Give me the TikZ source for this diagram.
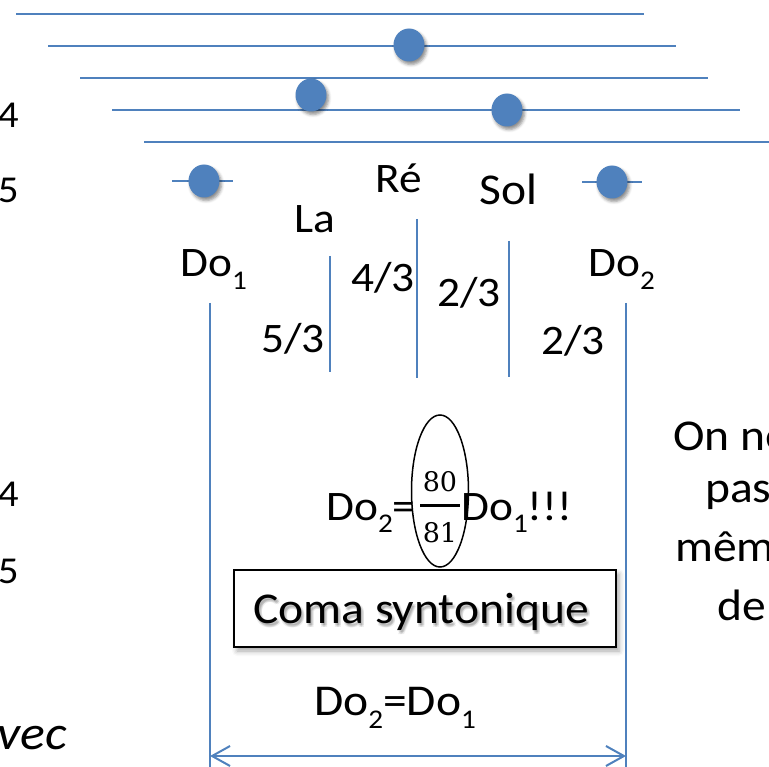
\documentclass[tikz,border=0pt]{standalone}
\usepackage{fontspec}
\setmainfont{Carlito}[FakeStretch=1.08]
\newfontfamily\fracfont{DejaVu Serif}
\usetikzlibrary{arrows.meta,shadows.blur,shapes.geometric}
\definecolor{staff}{HTML}{4F81BD}
\newcommand\lowsub[1]{\raisebox{-0.3em}{\fontsize{27}{27}\selectfont #1}}
\tikzset{
  staffline/.style={draw=staff, line width=2pt},
  notedot/.style={ellipse, minimum width=31pt, minimum height=33pt, inner sep=0pt, fill=staff,
    blur shadow={shadow xshift=2pt, shadow yshift=-3pt, shadow blur radius=3pt, shadow opacity=45}},
  lbl/.style={inner sep=0pt, anchor=base west, font=\fontsize{42}{50}\selectfont},
  lblr/.style={inner sep=0pt, anchor=base east, font=\fontsize{38}{46}\selectfont},
  sidetxt/.style={lbl, font=\fontsize{44}{52}\selectfont},
  fracnum/.style={inner sep=0pt, anchor=base, font=\fracfont\fontsize{27}{32}\selectfont},
  comafont/.style={lbl, font=\fontsize{44}{52}\selectfont},
  dimarrow/.style={staffline, {Straight Barb[length=18pt,width=20pt]}-{Straight Barb[length=18pt,width=20pt]}},
}
\begin{document}
\begin{tikzpicture}[x=1pt,y=-1pt]
\useasboundingbox (0,0) rectangle (769,767);
\clip (0,0) rectangle (769,767);
% staff lines
\foreach \i in {0,...,4}{
  \coordinate (s\i a) at ({16+32*\i},{14+32*\i});
  \coordinate (s\i b) at ({644+32*\i},{14+32*\i});
  \draw[staffline] (s\i a) -- (s\i b);
}
% ledger lines
\coordinate (l1a) at (172,181); \coordinate (l1b) at (233,181);
\coordinate (l2a) at (582,182); \coordinate (l2b) at (642,182);
\draw[staffline] (l1a) -- (l1b);
\draw[staffline] (l2a) -- (l2b);
% notes
\node[notedot] (nre) at (409,45) {};
\node[notedot] (nla) at (311,95) {};
\node[notedot] (nsol) at (507,110) {};
\node[notedot] (ndo1) at (204,181) {};
\node[notedot] (ndo2) at (612,182) {};
% note names
\node[lbl] (do1) at (180,277) {Do\lowsub{1}};
\node[lbl] (la) at (294,233) {La};
\node[lbl] (re) at (375,193) {Ré};
\node[lbl, font=\fontsize{44}{52}\selectfont] (sol) at (479,205) {Sol};
\node[lbl] (do2) at (588,277) {Do\lowsub{2}};
% ratios
\node[lbl] (f1) at (261,353) {5/3};
\node[lbl] (f2) at (351,292) {4/3};
\node[lbl] (f3) at (437,307) {2/3};
\node[lbl] (f4) at (541,355) {2/3};
% vertical lines
\coordinate (v1a) at (210,303); \coordinate (v1b) at (210,767);
\coordinate (v2a) at (330,256); \coordinate (v2b) at (330,372);
\coordinate (v3a) at (417,219); \coordinate (v3b) at (417,378);
\coordinate (v4a) at (509,241); \coordinate (v4b) at (509,377);
\coordinate (v5a) at (626,303); \coordinate (v5b) at (626,767);
\foreach \v in {1,...,5}{ \draw[staffline] (v\v a) -- (v\v b); }
% equation with comma
\node[lbl] (eqa) at (326,520) {Do\lowsub{2}=};
\coordinate (bara) at (420,505); \coordinate (barb) at (460,505);
\draw[line width=3pt] (bara) -- (barb);
\node[fracnum] (num) at (440,491) {80};
\node[fracnum] (den) at (440,542) {81};
\node[lbl] (eqb) at (461,520) {Do\lowsub{1}!!!};
\node[draw, line width=1.5pt, ellipse, minimum width=57pt, minimum height=152pt, inner sep=0pt] (oval) at (440,491) {};
% box
\node[draw, line width=1.5pt, fill=white, minimum width=382pt, minimum height=77pt, inner sep=0pt,
  blur shadow={shadow xshift=3pt, shadow yshift=-4pt, shadow blur radius=5pt, shadow opacity=35}] (coma) at (425,608.5) {};
\foreach \dx/\dy in {1/2,3/2,1/4,3/4,2/3}{
  \node[comafont, text=black, opacity=0.07] at ({253+\dx},{623+\dy}) {Coma syntonique};
}
\node[comafont] (comatxt) at (253,623) {Coma syntonique};
% bottom
\node[lbl, font=\fontsize{44}{52}\selectfont] (eq2) at (314,715) {Do\lowsub{2}=Do\lowsub{1}};
\draw[dimarrow] (210,756) coordinate (ar1) -- (626,756) coordinate (ar2);
% right text
\node[sidetxt] (r1) at (673,450) {On ne};
\node[sidetxt] (r2) at (705,502) {pas};
\node[sidetxt] (r3) at (675,561) {même};
\node[sidetxt] (r4) at (717,620) {de};
% left text
\node[lblr] (l1) at (19,128) {4};
\node[lblr] (l2) at (19,203) {5};
\node[lblr] (l3) at (19,506) {4};
\node[lblr] (l4) at (19,583) {5};
\node[lblr, font=\itshape\fontsize{48}{56}\selectfont] (l5) at (67,749) {avec};
\end{tikzpicture}
\end{document}
